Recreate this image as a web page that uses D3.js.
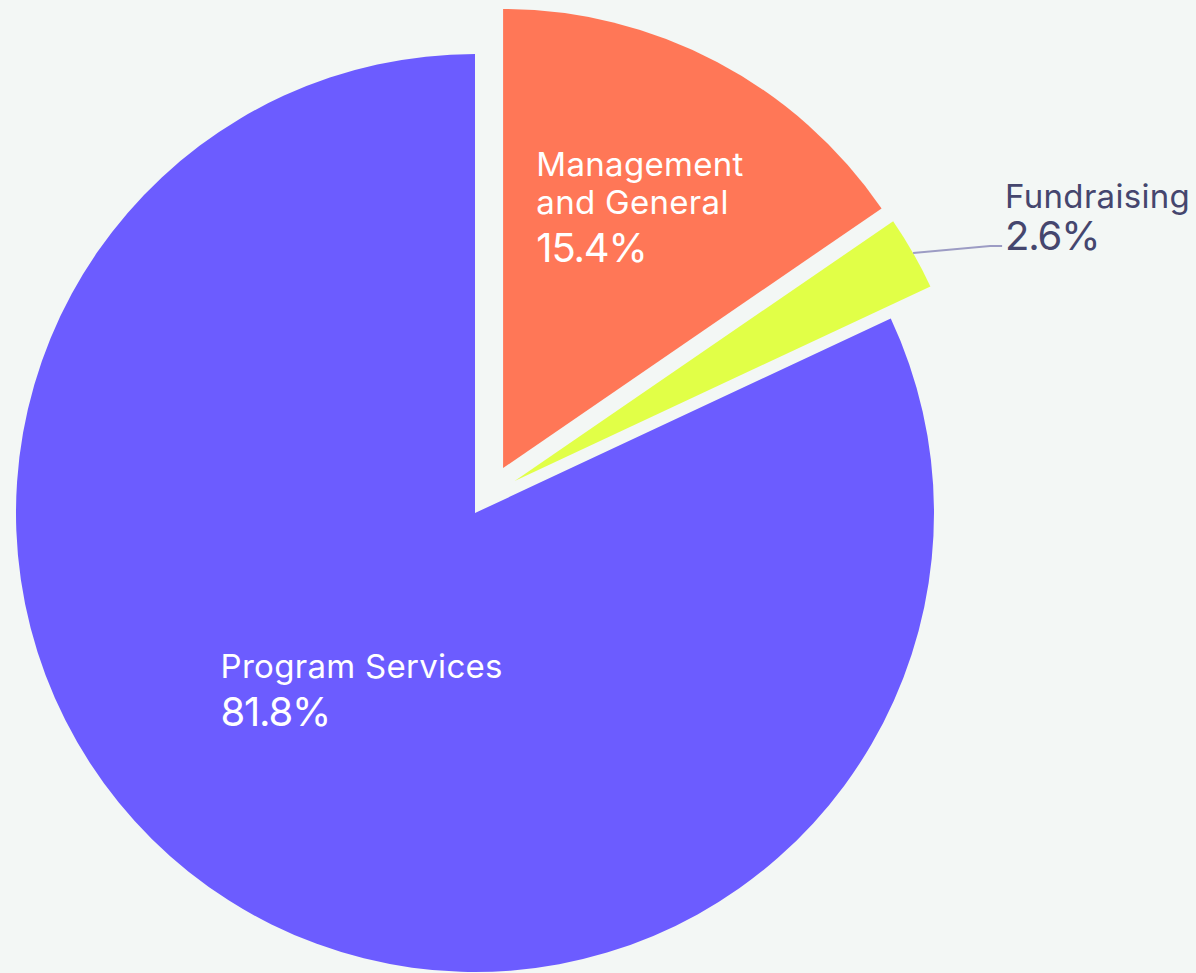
<!DOCTYPE html>
<html>
<head>
<meta charset="utf-8">
<script src="https://cdn.jsdelivr.net/npm/d3@7/dist/d3.min.js"></script>
<style>
  html, body { margin: 0; padding: 0; background: #f3f7f5; }
  svg { display: block; }
  text { font-family: Inter, "DejaVu Sans", sans-serif; }
</style>
</head>
<body>
<div id="chart"></div>
<script>
const categories = ['Management and General', 'Fundraising', 'Program Services']
const labelLines = [['Management', 'and General'], ['Fundraising'], ['Program Services']]
const values = [15.4, 2.6, 81.8]
const colors = ['#ff7757', '#e1ff47', '#6c5cff']

const width = 1196
const height = 973
const cx = 475
const cy = 513
const radius = 459

// exploded slices: distance and direction (degrees, clockwise from 12 o'clock)
const pull = {
  'Management and General': { dist: 53, angle: 32 },
  'Fundraising': { dist: 51, angle: 51 }
}
// inside labels: block centre as a fraction of the radius along the slice mid angle
const inside = {
  'Management and General': 0.64,
  'Program Services': 0.46
}

const svg = d3.select('#chart')
  .append('svg')
  .attr('width', width)
  .attr('height', height)

svg.append('rect')
  .attr('width', width)
  .attr('height', height)
  .attr('fill', '#f3f7f5')

const data = categories.map((c, i) => ({ name: c, value: values[i], lines: labelLines[i], color: colors[i] }))

const pie = d3.pie()
  .value(d => d.value)
  .sort(null)

const arc = d3.arc()
  .innerRadius(0)
  .outerRadius(radius)

const rad = deg => deg * Math.PI / 180

const offsetOf = d => {
  const p = pull[d.data.name]
  if (!p) return [0, 0]
  return [p.dist * Math.sin(rad(p.angle)), -p.dist * Math.cos(rad(p.angle))]
}

const arcs = pie(data)

const slices = svg.append('g')
  .attr('transform', 'translate(' + cx + ',' + cy + ')')

slices.selectAll('path')
  .data(arcs)
  .enter()
  .append('path')
  .attr('d', arc)
  .attr('fill', d => d.data.color)
  .attr('transform', d => {
    const o = offsetOf(d)
    return 'translate(' + o[0] + ',' + o[1] + ')'
  })

const labelSize = 33
const pctSize = 40
const lineGap = 38

arcs.forEach(d => {
  const o = offsetOf(d)
  const mid = (d.startAngle + d.endAngle) / 2
  const pct = d3.format('.1f')(d.data.value) + '%'
  const g = slices.append('g')

  if (inside[d.data.name] !== undefined) {
    const k = inside[d.data.name] * radius
    const bx = o[0] + k * Math.sin(mid)
    const by = o[1] - k * Math.cos(mid)
    const t = g.append('text').attr('fill', '#ffffff')
    d.data.lines.forEach((line, i) => {
      t.append('tspan')
        .attr('x', 0)
        .attr('y', i * lineGap)
        .attr('font-size', labelSize)
        .attr('letter-spacing', 0.3)
        .text(line)
    })
    t.append('tspan')
      .attr('x', 0)
      .attr('y', (d.data.lines.length - 1) * lineGap + 48)
      .attr('font-size', pctSize)
      .attr('letter-spacing', -1.2)
      .text(pct)
    const bb = t.node().getBBox()
    t.attr('transform', 'translate(' + (bx - bb.x - bb.width / 2) + ',' + (by - bb.y - bb.height / 2) + ')')
  } else {
    // outside label with a leader line
    const ex = o[0] + radius * Math.sin(mid)
    const ey = o[1] - radius * Math.cos(mid)
    const lx = ex + 77
    const ly = ey - 7
    g.append('path')
      .attr('d', 'M' + ex + ',' + ey + 'L' + lx + ',' + ly + 'L' + (lx + 12) + ',' + ly)
      .attr('fill', 'none')
      .attr('stroke', '#9c9cc4')
      .attr('stroke-width', 2)
    const t = g.append('text').attr('fill', '#45466e')
    t.append('tspan')
      .attr('x', lx + 15)
      .attr('y', ly - 38)
      .attr('font-size', labelSize)
      .attr('letter-spacing', 0.3)
      .text(d.data.lines[0])
    t.append('tspan')
      .attr('x', lx + 15)
      .attr('y', ly + 4)
      .attr('font-size', pctSize)
      .attr('letter-spacing', -1.2)
      .text(pct)
  }
})
</script>
</body>
</html>
